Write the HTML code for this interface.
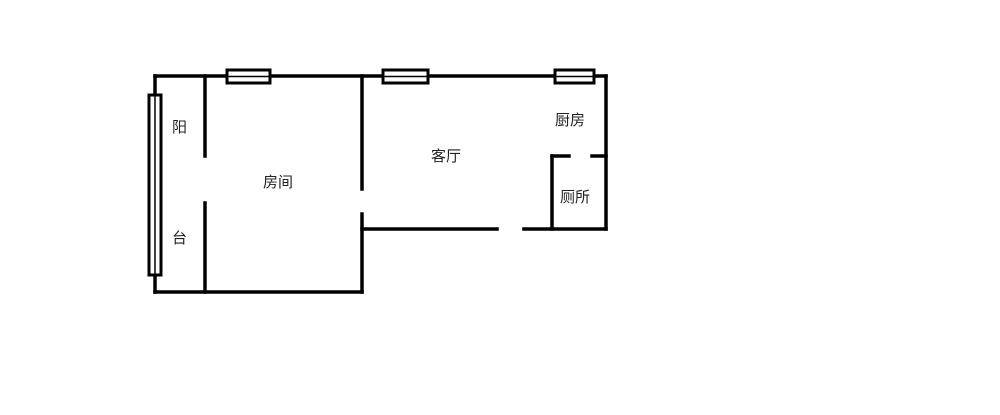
<!DOCTYPE html>
<html><head><meta charset="utf-8"><style>
html,body{margin:0;padding:0;background:#fff;width:1000px;height:415px;overflow:hidden}
text{font-family:"Liberation Sans","Noto Sans CJK SC",sans-serif;font-size:15px;fill:#222}
</style></head><body>
<svg width="1000" height="415" viewBox="0 0 1000 415">
<g stroke="#000" stroke-width="3.5" fill="none" stroke-linecap="square">
<line x1="155" y1="76" x2="606" y2="76"/>
<line x1="155" y1="76" x2="155" y2="292"/>
<line x1="155" y1="292" x2="362" y2="292"/>
<line x1="205" y1="76" x2="205" y2="156"/>
<line x1="205" y1="203" x2="205" y2="292"/>
<line x1="362" y1="76" x2="362" y2="189"/>
<line x1="362" y1="214" x2="362" y2="292"/>
<line x1="606" y1="76" x2="606" y2="229"/>
<line x1="362" y1="229" x2="497" y2="229"/>
<line x1="524" y1="229" x2="606" y2="229"/>
<line x1="552" y1="156" x2="552" y2="229"/>
<line x1="552" y1="156" x2="569" y2="156"/>
<line x1="592" y1="156" x2="606" y2="156"/>
</g>
<g stroke="#000" stroke-width="3" fill="#fff">
<rect x="227" y="70" width="43" height="13"/>
<rect x="383" y="70" width="45" height="13"/>
<rect x="555" y="70" width="39" height="13"/>
<rect x="149" y="95" width="12" height="180"/>
</g>
<g stroke="#000" stroke-width="1.5">
<line x1="227" y1="76.5" x2="270" y2="76.5"/>
<line x1="383" y1="76.5" x2="428" y2="76.5"/>
<line x1="555" y1="76.5" x2="594" y2="76.5"/>
<line x1="155" y1="95" x2="155" y2="275"/>
</g>
<text x="172" y="132">阳</text>
<text x="172" y="243">台</text>
<text x="263" y="187">房间</text>
<text x="431" y="161">客厅</text>
<text x="555" y="125">厨房</text>
<text x="560" y="202">厕所</text>
</svg>
</body></html>
